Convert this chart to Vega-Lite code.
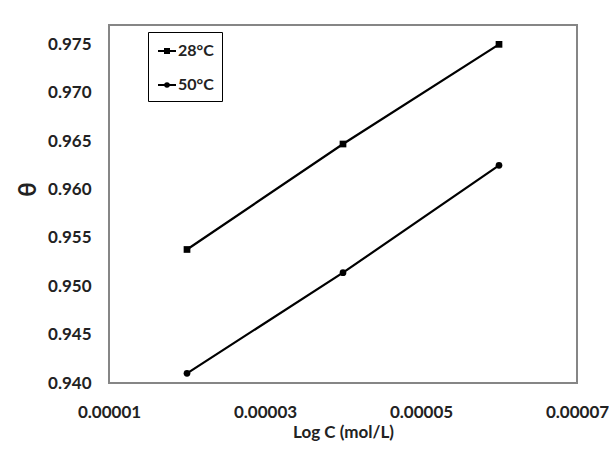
{
  "$schema": "https://vega.github.io/schema/vega-lite/v6.json",
  "width": 468,
  "height": 358,
  "autosize": "none",
  "padding": {"left": 109, "top": 25, "right": 32, "bottom": 67},
  "background": "white",
  "config": {
    "font": "Lato",
    "view": {"stroke": "#868686", "strokeWidth": 2},
    "axis": {
      "grid": false, "domain": false, "ticks": false,
      "labelFont": "Lato", "labelFontWeight": "bold", "labelFontSize": 17, "labelColor": "#222",
      "titleFont": "Lato", "titleFontWeight": "bold", "titleFontSize": 17, "titleColor": "#222"
    }
  },
  "data": {
    "values": [
      {"c": 0.00002, "theta": 0.9538, "series": "28°C"},
      {"c": 0.00004, "theta": 0.9647, "series": "28°C"},
      {"c": 0.00006, "theta": 0.9750, "series": "28°C"},
      {"c": 0.00002, "theta": 0.9410, "series": "50°C"},
      {"c": 0.00004, "theta": 0.9514, "series": "50°C"},
      {"c": 0.00006, "theta": 0.9625, "series": "50°C"}
    ]
  },
  "encoding": {
    "x": {
      "field": "c", "type": "quantitative",
      "scale": {"domain": [0.00001, 0.00007], "nice": false, "zero": false},
      "axis": {"title": "Log C (mol/L)", "values": [0.00001, 0.00003, 0.00005, 0.00007], "format": ".5f", "labelPadding": 21, "labelFlush": false, "labelOverlap": false, "titlePadding": 4}
    },
    "y": {
      "field": "theta", "type": "quantitative",
      "scale": {"domain": [0.940, 0.977], "nice": false, "zero": false},
      "axis": {"title": "θ", "titleFontSize": 24, "values": [0.940, 0.945, 0.950, 0.955, 0.960, 0.965, 0.970, 0.975], "format": ".3f", "labelPadding": 18, "labelFlush": false, "labelOverlap": false, "titleX": -81, "titleY": 164, "titleAlign": "center", "titleBaseline": "middle", "titleAngle": -90}
    }
  },
  "layer": [
    {
      "mark": {"type": "line", "color": "black", "strokeWidth": 2.2},
      "encoding": {"detail": {"field": "series", "type": "nominal"}}
    },
    {
      "mark": {"type": "point", "filled": true, "opacity": 1, "color": "black"},
      "encoding": {
        "shape": {
          "field": "series", "type": "nominal",
          "scale": {"domain": ["28°C", "50°C"], "range": ["square", "circle"]},
          "legend": null
        },
        "size": {"value": 45}
      }
    },
    {
      "transform": [{"filter": "datum.c > 1"}],
      "mark": {"type": "point", "filled": false, "opacity": 1, "color": "black", "strokeWidth": 2},
      "encoding": {
        "shape": {
          "field": "series", "type": "nominal",
          "scale": {"domain": ["28°C", "50°C"], "range": ["M-0.9,0H0.9M-0.3,-0.2H0.3M-0.3,0.2H0.3", "M-0.9,0H0.9M0.18,0A0.18,0.18 0 1,1 -0.18,0A0.18,0.18 0 1,1 0.18,0ZM0.06,0A0.06,0.06 0 1,1 -0.06,0A0.06,0.06 0 1,1 0.06,0Z"]},
          "legend": {
            "title": null,
            "orient": "none",
            "legendX": 39,
            "legendY": 7,
            "strokeColor": "black",
            "fillColor": "white",
            "padding": 8,
            "rowPadding": 15,
            "symbolSize": 400,
            "symbolStrokeWidth": 2,
            "labelFont": "Lato",
            "labelFontWeight": "bold",
            "labelFontSize": 16,
            "labelColor": "#222",
            "labelOffset": 0
          }
        },
        "size": {"value": 45}
      }
    }
  ],
  "resolve": {"scale": {"shape": "independent"}, "legend": {"shape": "independent"}}
}
